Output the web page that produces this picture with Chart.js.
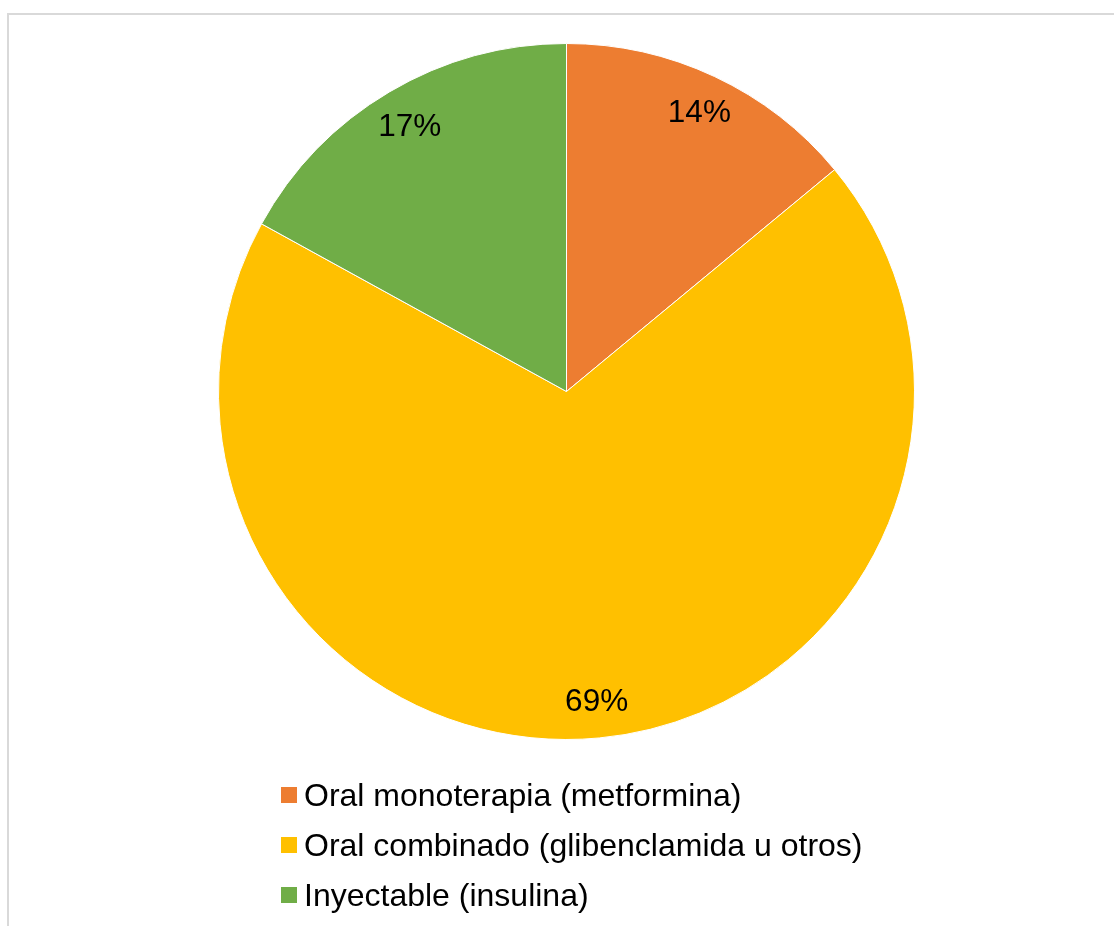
<!DOCTYPE html>
<html>
<head>
<meta charset="utf-8">
<script src="https://cdn.jsdelivr.net/npm/chart.js@4.4.1/dist/chart.umd.min.js"></script>
<style>
  html, body { margin: 0; padding: 0; background: #ffffff; overflow: hidden; }
  #wrap { position: relative; width: 1114px; height: 926px; }
  #frame { position: absolute; left: 7px; top: 13px; width: 1120px; height: 1000px;
           border-left: 2px solid #d9d9d9; border-top: 2px solid #d9d9d9; box-sizing: border-box; }
  canvas { position: absolute; left: 0; top: 0; }
</style>
</head>
<body>
<div id="wrap">
  <div id="frame"></div>
  <canvas id="c" width="1114" height="926"></canvas>
</div>
<script>
const categories = [
  'Oral monoterapia (metformina)',
  'Oral combinado (glibenclamida u otros)',
  'Inyectable (insulina)'
];
const values = [14, 69, 17];
const colors = ['#ED7D31', '#FFC000', '#70AD47'];

const FONT = '"Liberation Sans", Arial, sans-serif';

const labelPlugin = {
  id: 'sliceLabels',
  afterDatasetsDraw(chart) {
    const ctx = chart.ctx;
    const meta = chart.getDatasetMeta(0);
    const total = values.reduce((a, b) => a + b, 0);
    ctx.save();
    ctx.font = '31.5px ' + FONT;
    ctx.fillStyle = '#000000';
    ctx.textAlign = 'center';
    ctx.textBaseline = 'alphabetic';
    meta.data.forEach((arc, i) => {
      const p = arc.getProps(['x', 'y', 'startAngle', 'endAngle', 'outerRadius'], true);
      const mid = (p.startAngle + p.endAngle) / 2;
      const r = p.outerRadius * 0.89;
      const x = p.x + Math.cos(mid) * r;
      const y = p.y + Math.sin(mid) * r;
      const txt = Math.round(values[i] / total * 100) + '%';
      ctx.fillText(txt, x + 1, y + 11);
    });
    ctx.restore();
  }
};

const legendPlugin = {
  id: 'columnLegend',
  afterDraw(chart) {
    const ctx = chart.ctx;
    ctx.save();
    ctx.font = '32px ' + FONT;
    ctx.textAlign = 'left';
    ctx.textBaseline = 'alphabetic';
    categories.forEach((name, i) => {
      const baseY = 806 + i * 50;
      ctx.fillStyle = colors[i];
      ctx.fillRect(281, baseY - 19, 16, 16);
      ctx.fillStyle = '#000000';
      ctx.fillText(name, 304, baseY);
    });
    ctx.restore();
  }
};

new Chart(document.getElementById('c'), {
  type: 'pie',
  data: {
    labels: categories,
    datasets: [{
      data: values,
      backgroundColor: colors,
      borderColor: '#ffffff',
      borderWidth: 1
    }]
  },
  options: {
    responsive: false,
    animation: false,
    layout: { padding: { left: 218, right: 199, top: 43, bottom: 186 } },
    plugins: {
      legend: { display: false },
      tooltip: { enabled: false }
    }
  },
  plugins: [labelPlugin, legendPlugin]
});
</script>
</body>
</html>
